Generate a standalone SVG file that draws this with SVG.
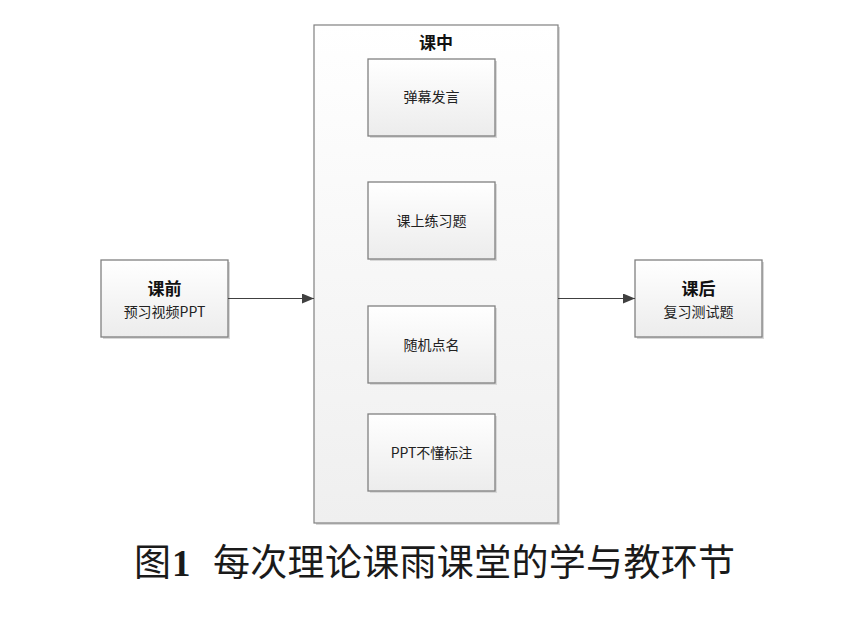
<svg xmlns="http://www.w3.org/2000/svg" width="868" height="632" viewBox="0 0 868 632">
<defs>
<linearGradient id="gBox" x1="0" y1="0" x2="0" y2="1">
<stop offset="0" stop-color="#ffffff"/>
<stop offset="1" stop-color="#ececec"/>
</linearGradient>
<linearGradient id="gCont" x1="0" y1="0" x2="0" y2="1">
<stop offset="0" stop-color="#ffffff"/>
<stop offset="1" stop-color="#efefef"/>
</linearGradient>
<marker id="arr" markerWidth="12" markerHeight="10" refX="12" refY="5" orient="auto" markerUnits="userSpaceOnUse">
<path d="M0,0 L12,5 L0,10 Z" fill="#404040"/>
</marker>
</defs>
<style>
.box{fill:url(#gBox);stroke:#808080;stroke-width:1.3}
.shadow{fill:#d8d8d8}
.cont{fill:url(#gCont);stroke:#808080;stroke-width:1.2}
.t{font-family:"Noto Sans CJK SC","Noto Sans",sans-serif;font-size:14px;fill:#222;text-anchor:middle}
.tb{font-family:"Noto Sans CJK SC","Noto Sans",sans-serif;font-size:17px;font-weight:bold;fill:#111;text-anchor:middle}
.conn{stroke:#404040;stroke-width:1.2;fill:none}
.cap{font-family:"Noto Sans CJK SC",sans-serif;font-size:37px;fill:#1a1a1a}
</style>
<rect width="868" height="632" fill="#ffffff"/>

<g id="container-kezhong">
<rect class="shadow" x="316" y="27" width="244" height="498"/>
<rect class="cont" x="314" y="25" width="244" height="498"/>
<text class="tb" x="436" y="49">课中</text>
</g>

<g id="node-kuqian">
<rect class="shadow" x="103" y="262" width="127" height="77"/>
<rect class="box" x="101" y="260" width="127" height="77"/>
<text class="tb" x="164.5" y="295">课前</text>
<text class="t" x="164.5" y="317">预习视频PPT</text>
</g>

<g id="node-houke">
<rect class="shadow" x="637" y="262" width="127" height="77"/>
<rect class="box" x="635" y="260" width="127" height="77"/>
<text class="tb" x="698.5" y="295">课后</text>
<text class="t" x="698.5" y="317">复习测试题</text>
</g>

<g id="node-danmu">
<rect class="shadow" x="370" y="61" width="127" height="77"/>
<rect class="box" x="368" y="59" width="127" height="77"/>
<text class="t" x="431.5" y="102">弹幕发言</text>
</g>

<g id="node-lianxi">
<rect class="shadow" x="370" y="184" width="127" height="77"/>
<rect class="box" x="368" y="182" width="127" height="77"/>
<text class="t" x="431.5" y="226">课上练习题</text>
</g>

<g id="node-dianming">
<rect class="shadow" x="370" y="308" width="127" height="77"/>
<rect class="box" x="368" y="306" width="127" height="77"/>
<text class="t" x="431.5" y="350">随机点名</text>
</g>

<g id="node-biaozhu">
<rect class="shadow" x="370" y="416" width="127" height="77"/>
<rect class="box" x="368" y="414" width="127" height="77"/>
<text class="t" x="431.5" y="458">PPT不懂标注</text>
</g>

<g id="connectors">
<line class="conn" x1="228" y1="298.5" x2="314" y2="298.5" marker-end="url(#arr)"/>
<line class="conn" x1="558" y1="298.5" x2="635" y2="298.5" marker-end="url(#arr)"/>
</g>

<g id="caption">
<text class="cap" x="134" y="576">图</text>
<text x="172" y="576" font-family="Liberation Serif,serif" font-weight="bold" font-size="37" fill="#1a1a1a">1</text>
<text class="cap" x="213" y="576" textLength="522" lengthAdjust="spacing">每次理论课雨课堂的学与教环节</text>
</g>
</svg>
